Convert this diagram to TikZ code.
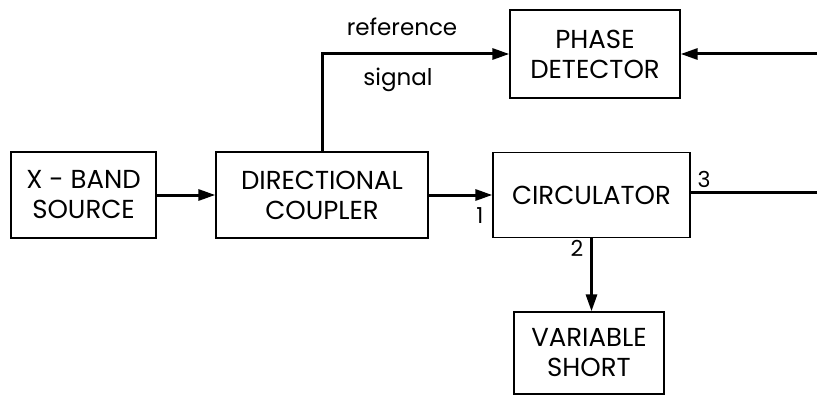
\documentclass[tikz,border=0pt]{standalone}
\usepackage{fontspec}
\setmainfont{Poppins}
\usetikzlibrary{arrows.meta}
\begin{document}
\begin{tikzpicture}[x=1pt,y=-1pt,
  blk/.style={draw,line width=1.3pt,align=center,font=\fontsize{26}{30}\selectfont,inner sep=0pt},
  arr/.style={line width=3pt,-{Triangle[length=17pt,width=11pt]}},
  wire/.style={line width=3pt},
  lbl/.style={font=\fontsize{23}{26}\selectfont,inner sep=0pt},
  num/.style={font=\fontsize{22}{26}\selectfont,inner sep=0pt}]
\useasboundingbox (0,0) rectangle (817,396);
\node[blk,minimum width=145pt,minimum height=86pt] (src) at (83.5,195) {X - BAND\\SOURCE};
\node[blk,minimum width=212pt,minimum height=86pt] (dc) at (322,195) {DIRECTIONAL\\COUPLER};
\node[blk,minimum width=197pt,minimum height=85pt] (circ) at (591.5,195) {CIRCULATOR};
\node[blk,minimum width=170pt,minimum height=88pt] (pd) at (595,54) {PHASE\\DETECTOR};
\node[blk,minimum width=150pt,minimum height=82pt] (vs) at (589,353) {VARIABLE\\SHORT};
\coordinate (inR) at (817,54);
\coordinate (outR) at (817,192);
\draw[arr] (src.east) -- (dc.west);
\draw[arr] (dc.east) -- (circ.west);
\draw[arr] (dc.north) |- (pd.west);
\draw[arr] (inR) -- (pd.east);
\draw[wire] (circ.east |- outR) -- (outR);
\draw[arr] (circ.south) -- (circ.south |- vs.north);
\node[lbl] (ref) at (402,27) {reference};
\node[lbl] (sig) at (398,80) {signal};
\node[num] (p1) at (480,216) {1};
\node[num] (p2) at (577,248) {2};
\node[num] (p3) at (704,179) {3};
\end{tikzpicture}
\end{document}
